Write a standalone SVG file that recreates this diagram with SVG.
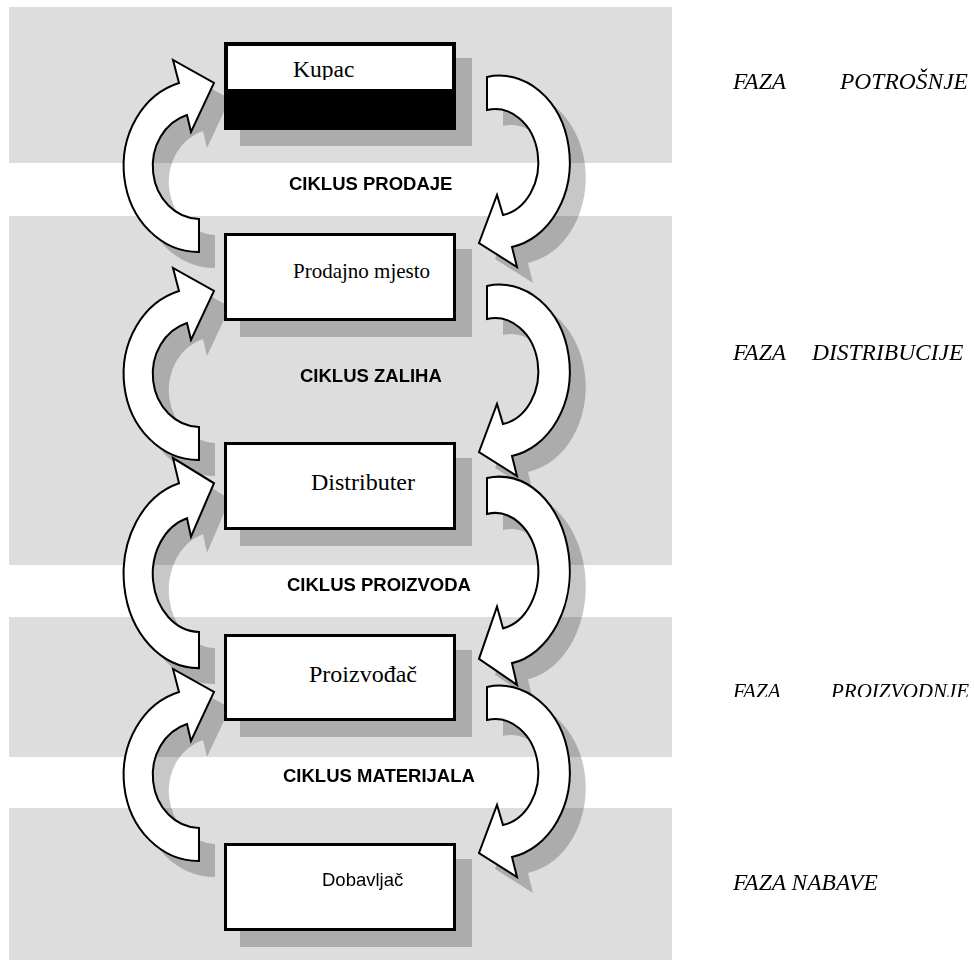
<svg xmlns="http://www.w3.org/2000/svg" xmlns:xlink="http://www.w3.org/1999/xlink" width="974" height="960" viewBox="0 0 974 960">
<style>
.band{fill:#dddddd}
.arrow{fill:#ffffff;stroke:#000;stroke-width:2;stroke-linejoin:miter}
.box{fill:#ffffff;stroke:#000;stroke-width:3}
.sh{fill:#000}
.serif{font-family:"Liberation Serif","Times New Roman",serif;fill:#000}
.sans{font-family:"Liberation Sans",Arial,sans-serif;fill:#000}
.cyc{font-family:"Liberation Sans",Arial,sans-serif;font-weight:bold;font-size:18.5px;fill:#000}
.phase{font-family:"Liberation Serif","Times New Roman",serif;font-style:italic;font-size:23.5px;fill:#000}
</style>
<defs>
<path id="la" d="M 0,86 A 75,86 0 0 1 -20,-83 L -26,-106 L 15,-83 L -8,-34 L -12,-51 A 47,53 0 0 0 0,53 Z"/>
<path id="ra" d="M 0,-86 A 70,86 0 0 1 25,84 L 30,104 L -8,80 L 10,32 L 16,52 A 43,53 0 0 0 0,-53 Z"/>
<clipPath id="clipK"><rect x="0" y="0" width="974" height="80"/></clipPath>
<clipPath id="clipP"><rect x="0" y="600" width="974" height="97"/></clipPath>
</defs>
<rect width="974" height="960" fill="#ffffff"/>
<g id="bands">
<rect class="band" x="9" y="7" width="663" height="156"/>
<rect class="band" x="9" y="216" width="663" height="349"/>
<rect class="band" x="9" y="617" width="663" height="140"/>
<rect class="band" x="9" y="808" width="663" height="152"/>
</g>
<g id="connectors">
<g opacity="0.22" class="sh">
<use xlink:href="#la" transform="translate(215,182)"/>
<use xlink:href="#la" transform="translate(215,390)"/>
<use xlink:href="#la" transform="translate(215,590) scale(1,1.094)"/>
<use xlink:href="#la" transform="translate(215,791)"/>
<use xlink:href="#ra" transform="translate(503,179)"/>
<use xlink:href="#ra" transform="translate(503,388)"/>
<use xlink:href="#ra" transform="translate(503,587.7) scale(1,1.089)"/>
<use xlink:href="#ra" transform="translate(503,789)"/>
</g>
<use class="arrow" xlink:href="#la" transform="translate(199,166)"/>
<use class="arrow" xlink:href="#la" transform="translate(199,374)"/>
<use class="arrow" xlink:href="#la" transform="translate(199,574) scale(1,1.094)"/>
<use class="arrow" xlink:href="#la" transform="translate(199,775)"/>
<use class="arrow" xlink:href="#ra" transform="translate(487,163)"/>
<use class="arrow" xlink:href="#ra" transform="translate(487,372)"/>
<use class="arrow" xlink:href="#ra" transform="translate(487,571.7) scale(1,1.089)"/>
<use class="arrow" xlink:href="#ra" transform="translate(487,773)"/>
</g>
<g id="node-kupac">
<rect class="sh" opacity="0.22" x="240" y="58" width="232" height="88"/>
<rect x="226" y="44" width="228" height="84" fill="#fff" stroke="#000" stroke-width="4"/>
<rect x="224" y="89" width="232" height="41" fill="#000"/>
<text class="serif" font-size="23.5" x="293" y="77" clip-path="url(#clipK)">Kupac</text>
</g>
<g id="node-prodajno">
<rect class="sh" opacity="0.22" x="240" y="249" width="232" height="88"/>
<rect class="box" x="225.5" y="234.5" width="229" height="85"/>
<text class="serif" font-size="21" x="293" y="278">Prodajno mjesto</text>
</g>
<g id="node-distributer">
<rect class="sh" opacity="0.22" x="240" y="458" width="232" height="88"/>
<rect class="box" x="225.5" y="443.5" width="229" height="85"/>
<text class="serif" font-size="24" x="311" y="490">Distributer</text>
</g>
<g id="node-proizvodjac">
<rect class="sh" opacity="0.22" x="240" y="650" width="232" height="87"/>
<rect class="box" x="225.5" y="635.5" width="229" height="84"/>
<text class="serif" font-size="24" x="309" y="682">Proizvođač</text>
</g>
<g id="node-dobavljac">
<rect class="sh" opacity="0.22" x="240" y="859" width="232" height="88"/>
<rect class="box" x="225.5" y="844.5" width="229" height="85"/>
<text class="sans" font-size="18.5" x="322" y="886">Dobavljač</text>
</g>
<g id="cycle-labels">
<text class="cyc" x="289" y="190">CIKLUS PRODAJE</text>
<text class="cyc" x="300" y="382">CIKLUS ZALIHA</text>
<text class="cyc" x="287" y="591">CIKLUS PROIZVODA</text>
<text class="cyc" x="283" y="782">CIKLUS MATERIJALA</text>
</g>
<g id="phase-labels">
<text class="phase" y="89"><tspan x="733">FAZA</tspan><tspan x="840">POTROŠNJE</tspan></text>
<text class="phase" y="360"><tspan x="733">FAZA</tspan><tspan x="812">DISTRIBUCIJE</tspan></text>
<text class="phase" y="698" font-size="21" style="font-size:21px" clip-path="url(#clipP)"><tspan x="733">FAZA</tspan><tspan x="831">PROIZVODNJE</tspan></text>
<text class="phase" x="733" y="890">FAZA NABAVE</text>
</g>
</svg>
